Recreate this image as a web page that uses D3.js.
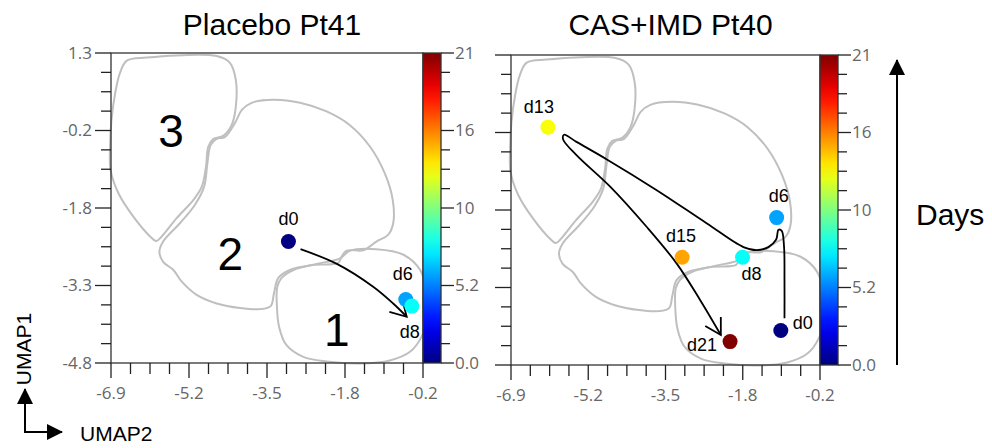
<!DOCTYPE html>
<meta charset="utf-8">
<style>
    body { margin: 0; background: #fff; }
    .outline { fill: none; stroke: #bfbfbf; stroke-width: 2px; }
    .frame { fill: none; stroke: #333; stroke-width: 1.3px; }
    .tick line { stroke: #222; stroke-width: 1.3px; }
    .ticklab { font: 17px "Open Sans", "Noto Sans", sans-serif; fill: #666; }
    .traj { fill: none; stroke: #000; stroke-width: 1.8px; }
    .ptlab { font: 18px "Liberation Sans", Arial, sans-serif; fill: #000; }
    .title { font: 30px "Liberation Sans", Arial, sans-serif; fill: #000; }
    .region { font: 46px "Liberation Sans", Arial, sans-serif; fill: #000; }
</style>
<body>
<script src="https://d3js.org/d3.v7.min.js"></script>
<script>
// axes and colour bar
var xDomain = [-6.9, -0.2];
var yDomain = [-4.8, 1.3];
var dayDomain = [0, 21];
var xTickLabels = ["-6.9", "-5.2", "-3.5", "-1.8", "-0.2"];
var yTickLabels = ["-4.8", "-3.3", "-1.8", "-0.2", "1.3"];
var dayTickLabels = ["0.0", "5.2", "10", "16", "21"];

// cluster outlines (UMAP2, UMAP1)
var cluster3 = [[-6.56, 1.15], [-6.13, 1.21], [-4.63, 1.24], [-4.35, 1.11], [-4.22, 0.77], [-4.22, 0.24],
    [-4.31, -0.12], [-4.49, -0.33], [-4.70, -0.39], [-4.81, -0.54], [-4.86, -0.94], [-4.95, -1.33],
    [-5.13, -1.59], [-5.49, -1.95], [-5.85, -2.35], [-5.93, -2.40], [-6.06, -2.31], [-6.42, -1.92],
    [-6.74, -1.46], [-6.91, -1.00], [-6.92, -0.54], [-6.89, -0.02], [-6.81, 0.51], [-6.71, 0.90]];
var cluster2 = [[-4.09, 0.18], [-3.88, 0.32], [-3.41, 0.38], [-2.84, 0.32], [-2.27, 0.15], [-1.77, -0.12],
    [-1.34, -0.54], [-1.02, -1.07], [-0.85, -1.59], [-0.84, -2.05], [-0.95, -2.28], [-1.20, -2.41],
    [-1.48, -2.58], [-1.84, -2.59], [-1.95, -2.71], [-2.02, -2.83], [-2.56, -2.87], [-3.06, -2.97],
    [-3.31, -3.13], [-3.40, -3.43], [-3.47, -3.68], [-3.70, -3.74], [-4.13, -3.72], [-4.63, -3.63],
    [-5.06, -3.46], [-5.38, -3.20], [-5.56, -2.97], [-5.78, -2.81], [-5.86, -2.61], [-5.78, -2.41],
    [-5.42, -2.05], [-5.10, -1.69], [-4.90, -1.33], [-4.83, -0.87], [-4.76, -0.51], [-4.63, -0.39],
    [-4.45, -0.35], [-4.24, -0.08]];
var cluster1 = [[-3.24, -3.13], [-2.98, -2.97], [-2.48, -2.85], [-1.98, -2.74], [-1.77, -2.59], [-1.20, -2.56],
    [-0.62, -2.67], [-0.26, -2.97], [-0.12, -3.43], [-0.11, -3.89], [-0.23, -4.28], [-0.48, -4.58],
    [-0.91, -4.75], [-1.55, -4.81], [-2.27, -4.77], [-2.77, -4.68], [-3.13, -4.45], [-3.29, -4.09],
    [-3.34, -3.63], [-3.33, -3.30]];
var regionNames = ["1", "2", "3"];
var regionCentres = [[-2.05, -4.13], [-4.34, -2.64], [-5.61, -0.22]];

// Placebo Pt41 samples
var placeboDays = [0, 6, 8];
var placeboX = [-3.09, -0.57, -0.44];
var placeboY = [-2.41, -3.55, -3.68];
var placeboPath = [[-2.83, -2.56], [-2.05, -2.85], [-1.27, -3.30], [-0.84, -3.63], [-0.55, -3.89]];

// CAS+IMD Pt40 samples
var casDays = [0, 6, 8, 13, 15, 21];
var casX = [-1.05, -1.14, -1.88, -6.10, -3.19, -2.15];
var casY = [-4.12, -1.90, -2.68, -0.12, -2.68, -4.34];
var casPath = [[-0.97, -3.88], [-0.97, -3.13], [-0.98, -2.47], [-1.03, -2.16], [-1.10, -2.14], [-1.15, -2.33],
    [-1.32, -2.48], [-1.57, -2.54], [-1.86, -2.48], [-2.66, -2.01], [-3.74, -1.36], [-4.83, -0.75],
    [-5.48, -0.41], [-5.75, -0.27], [-5.77, -0.36], [-5.48, -0.67], [-4.75, -1.29], [-3.96, -2.08],
    [-3.31, -2.80], [-2.80, -3.52], [-2.35, -4.21]];

// label placement (pixels from the point)
var placeboLabelPos = {0: [0, -17], 6: [-3, -19], 8: [-2, 32]};
var casLabelPos = {0: [22, -1], 6: [2, -16], 8: [9, 23], 13: [-9, -14], 15: [-1, -15], 21: [-28, 9]};

function jet(t) {
    function c(v) { return Math.max(0, Math.min(1, v)) * 255; }
    return d3.rgb(c(1.5 - Math.abs(4 * t - 3)), c(1.5 - Math.abs(4 * t - 2)), c(1.5 - Math.abs(4 * t - 1))) + "";
}
var color = d3.scaleSequential(jet).domain(dayDomain);

var svg = d3.select("body").append("svg")
    .attr("width", 992)
    .attr("height", 448);

var defs = svg.append("defs");
var grad = defs.append("linearGradient")
    .attr("id", "jet")
    .attr("x1", 0).attr("y1", 1).attr("x2", 0).attr("y2", 0);
d3.range(0, 1.0001, 0.05).forEach(function(t) {
    grad.append("stop").attr("offset", t).attr("stop-color", jet(t));
});
defs.append("marker")
    .attr("id", "open")
    .attr("markerUnits", "userSpaceOnUse")
    .attr("viewBox", "0 0 20 20")
    .attr("markerWidth", 20).attr("markerHeight", 20)
    .attr("refX", 18).attr("refY", 10)
    .attr("orient", "auto")
    .append("path")
    .attr("d", "M2.4,1L18,10L2.4,19")
    .attr("fill", "none")
    .attr("stroke", "#000")
    .attr("stroke-width", 1.8);
defs.append("marker")
    .attr("id", "solid")
    .attr("markerUnits", "userSpaceOnUse")
    .attr("viewBox", "0 0 16 16")
    .attr("markerWidth", 16).attr("markerHeight", 16)
    .attr("refX", 15).attr("refY", 8)
    .attr("orient", "auto")
    .append("path")
    .attr("d", "M0,0L16,8L0,16Z")
    .attr("fill", "#000");

function panel(opt) {
    var x = d3.scaleLinear().domain(xDomain).range([opt.left, opt.right]);
    var y = d3.scaleLinear().domain(yDomain).range([opt.bottom, opt.top]);
    var g = svg.append("g");
    var line = d3.line().x(function(d) { return x(d[0]); }).y(function(d) { return y(d[1]); });

    // cluster outlines
    g.selectAll(".outline")
        .data([cluster1, cluster2, cluster3])
        .enter().append("path")
        .attr("class", "outline")
        .attr("d", line.curve(d3.curveCatmullRomClosed.alpha(0.5)));

    if (opt.regions) {
        g.selectAll(".region")
            .data(regionNames)
            .enter().append("text")
            .attr("class", "region")
            .attr("x", function(d, i) { return x(regionCentres[i][0]); })
            .attr("y", function(d, i) { return y(regionCentres[i][1]); })
            .attr("dy", "0.36em")
            .attr("text-anchor", "middle")
            .text(function(d) { return d; });
    }

    // frame
    g.append("rect")
        .attr("class", "frame")
        .attr("x", opt.left).attr("y", opt.top)
        .attr("width", opt.right - opt.left)
        .attr("height", opt.bottom - opt.top);

    // ticks: 16 intervals, labelled every 4th
    var steps = d3.range(17);
    var xt = g.selectAll(".xt").data(steps).enter().append("line")
        .attr("x1", function(i) { return x(xDomain[0] + i * (xDomain[1] - xDomain[0]) / 16); })
        .attr("x2", function(i) { return x(xDomain[0] + i * (xDomain[1] - xDomain[0]) / 16); })
        .attr("y1", opt.bottom)
        .attr("y2", function(i) { return opt.bottom + (i % 4 ? 11 : 15); })
        .attr("stroke", "#222").attr("stroke-width", 1.3);
    g.selectAll(".xl").data(xTickLabels).enter().append("text")
        .attr("class", "ticklab")
        .attr("x", function(d, i) { return x(xDomain[0] + i * (xDomain[1] - xDomain[0]) / 4); })
        .attr("y", opt.bottom + 36)
        .attr("text-anchor", "middle")
        .text(function(d) { return d; });

    g.selectAll(".yt").data(steps).enter().append("line")
        .attr("y1", function(i) { return y(yDomain[0] + i * (yDomain[1] - yDomain[0]) / 16); })
        .attr("y2", function(i) { return y(yDomain[0] + i * (yDomain[1] - yDomain[0]) / 16); })
        .attr("x1", opt.left)
        .attr("x2", function(i) { return opt.left - (i % 4 ? 10 : 16); })
        .attr("stroke", "#222").attr("stroke-width", 1.3);
    if (opt.yLabels) {
        g.selectAll(".yl").data(yTickLabels).enter().append("text")
            .attr("class", "ticklab")
            .attr("x", opt.left - 19)
            .attr("y", function(d, i) { return y(yDomain[0] + i * (yDomain[1] - yDomain[0]) / 4); })
            .attr("dy", "0.35em")
            .attr("text-anchor", "end")
            .text(function(d) { return d; });
    }

    // trajectory
    g.append("path")
        .datum(opt.path)
        .attr("class", "traj")
        .attr("marker-end", "url(#open)")
        .attr("d", line.curve(d3.curveCatmullRom.alpha(0.5)));

    // samples
    var pts = opt.days.map(function(d, i) { return {day: d, x: opt.xs[i], y: opt.ys[i]}; });
    g.selectAll(".pt").data(pts).enter().append("circle")
        .attr("cx", function(d) { return x(d.x); })
        .attr("cy", function(d) { return y(d.y); })
        .attr("r", 7.5)
        .attr("fill", function(d) { return color(d.day); });
    g.selectAll(".ptlab").data(pts).enter().append("text")
        .attr("class", "ptlab")
        .attr("x", function(d) { return x(d.x) + opt.labelPos[d.day][0]; })
        .attr("y", function(d) { return y(d.y) + opt.labelPos[d.day][1]; })
        .attr("text-anchor", "middle")
        .text(function(d) { return "d" + d.day; });

    // colour bar
    var cb = d3.scaleLinear().domain(dayDomain).range([opt.bottom, opt.top]);
    var cbx = opt.right;
    g.append("rect")
        .attr("x", cbx).attr("y", opt.top)
        .attr("width", 18).attr("height", opt.bottom - opt.top)
        .attr("fill", "url(#jet)")
        .attr("stroke", "#333").attr("stroke-width", 1.3);
    g.selectAll(".ct").data(steps).enter().append("line")
        .attr("y1", function(i) { return cb(dayDomain[1] * i / 16); })
        .attr("y2", function(i) { return cb(dayDomain[1] * i / 16); })
        .attr("x1", cbx + 18)
        .attr("x2", function(i) { return cbx + 18 + (i % 4 ? 9 : 13); })
        .attr("stroke", "#222").attr("stroke-width", 1.3);
    g.selectAll(".cl").data(dayTickLabels).enter().append("text")
        .attr("class", "ticklab")
        .attr("x", cbx + 32)
        .attr("y", function(d, i) { return cb(dayDomain[1] * i / 4); })
        .attr("dy", "0.35em")
        .text(function(d) { return d; });

    g.append("text")
        .attr("class", "title")
        .attr("x", (opt.left + opt.right) / 2 + 5)
        .attr("y", 35)
        .attr("text-anchor", "middle")
        .text(opt.title);
}

panel({left: 111, right: 423, top: 53, bottom: 363, title: "Placebo Pt41", regions: true, yLabels: true,
    days: placeboDays, xs: placeboX, ys: placeboY, path: placeboPath, labelPos: placeboLabelPos});
panel({left: 511, right: 820, top: 55, bottom: 365, title: "CAS+IMD Pt40", regions: false, yLabels: false,
    days: casDays, xs: casX, ys: casY, path: casPath, labelPos: casLabelPos});

// Days arrow
svg.append("line")
    .attr("x1", 897).attr("y1", 365).attr("x2", 897).attr("y2", 60)
    .attr("stroke", "#000").attr("stroke-width", 2)
    .attr("marker-end", "url(#solid)");
svg.append("text")
    .attr("class", "title")
    .attr("x", 916).attr("y", 225)
    .text("Days");

// UMAP corner axes
svg.append("path")
    .attr("d", "M25,389V432H62")
    .attr("fill", "none");
svg.append("line")
    .attr("x1", 25).attr("y1", 432).attr("x2", 25).attr("y2", 389)
    .attr("stroke", "#000").attr("stroke-width", 2)
    .attr("marker-end", "url(#solid)");
svg.append("line")
    .attr("x1", 24).attr("y1", 432).attr("x2", 62).attr("y2", 432)
    .attr("stroke", "#000").attr("stroke-width", 2)
    .attr("marker-end", "url(#solid)");
svg.append("text")
    .attr("font-family", "Liberation Sans, Arial, sans-serif")
    .attr("font-size", 21)
    .attr("transform", "translate(31,349) rotate(-90)")
    .attr("text-anchor", "middle")
    .text("UMAP1");
svg.append("text")
    .attr("font-family", "Liberation Sans, Arial, sans-serif")
    .attr("font-size", 21)
    .attr("x", 80).attr("y", 441)
    .text("UMAP2");
</script>
</body>
